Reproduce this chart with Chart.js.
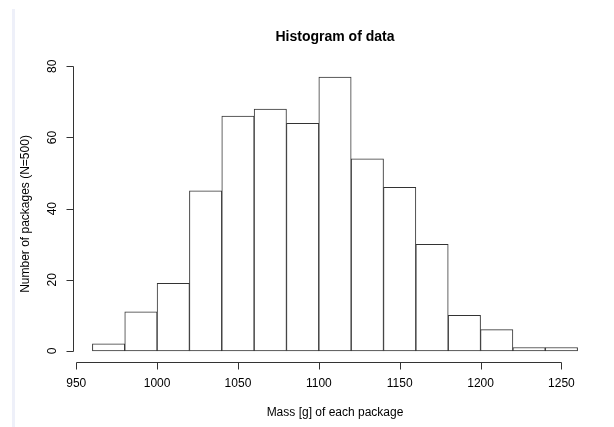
<!DOCTYPE html>
<html>
<head>
<meta charset="utf-8">
<script src="https://cdn.jsdelivr.net/npm/chart.js@4"></script>
<style>
  html, body { margin: 0; padding: 0; background: #fff; }
  #wrap { position: relative; width: 614px; height: 427px; }
  #strip { position: absolute; left: 12px; top: 9px; width: 3px; height: 418px; background: #eef0f9; }
  canvas { position: absolute; left: 0; top: 0; }
</style>
</head>
<body>
<div id="wrap">
  <div id="strip"></div>
  <canvas id="hist" width="614" height="427"></canvas>
</div>
<script>
// Classi di 20 g, da 960 a 1260
const binStart = [960, 980, 1000, 1020, 1040, 1060, 1080, 1100, 1120, 1140, 1160, 1180, 1200, 1220, 1240];
const binWidth = 20;
const counts   = [2, 11, 19, 45, 66, 68, 64, 77, 54, 46, 30, 10, 6, 1, 1];
const xTicks   = [950, 1000, 1050, 1100, 1150, 1200, 1250];
const yTicks   = [0, 20, 40, 60, 80];

const FONT = '"Liberation Sans", Arial, sans-serif';
const INK = '#333';

/* Assi in stile R: linea solo fra primo e ultimo tick, etichette y ruotate. */
const rAxes = {
  id: 'rAxes',
  afterDraw(chart) {
    const ctx = chart.ctx, x = chart.scales.x, y = chart.scales.y, a = chart.chartArea;
    const px = v => Math.round(v) + 0.5;
    ctx.save();
    ctx.strokeStyle = INK;
    ctx.lineWidth = 1;
    ctx.fillStyle = '#000';

    // asse x
    const yb = px(a.bottom);
    ctx.beginPath();
    ctx.moveTo(px(x.getPixelForValue(xTicks[0])), yb);
    ctx.lineTo(px(x.getPixelForValue(xTicks[xTicks.length - 1])), yb);
    xTicks.forEach(t => {
      const p = px(x.getPixelForValue(t));
      ctx.moveTo(p, yb);
      ctx.lineTo(p, yb + 7);
    });
    ctx.stroke();
    ctx.font = '12px ' + FONT;
    ctx.textAlign = 'center';
    ctx.textBaseline = 'middle';
    xTicks.forEach(t => ctx.fillText(String(t), x.getPixelForValue(t), a.bottom + 22));

    // asse y
    const xl = px(a.left);
    ctx.beginPath();
    ctx.moveTo(xl, px(y.getPixelForValue(yTicks[0])));
    ctx.lineTo(xl, px(y.getPixelForValue(yTicks[yTicks.length - 1])));
    yTicks.forEach(t => {
      const p = px(y.getPixelForValue(t));
      ctx.moveTo(xl, p);
      ctx.lineTo(xl - 7, p);
    });
    ctx.stroke();
    yTicks.forEach(t => {
      ctx.save();
      ctx.translate(a.left - 20, y.getPixelForValue(t));
      ctx.rotate(-Math.PI / 2);
      ctx.fillText(String(t), 0, 0);
      ctx.restore();
    });

    // titoli
    const cx = (a.left + a.right) / 2;
    ctx.font = 'bold 14px ' + FONT;
    ctx.fillText('Histogram of data', cx, 37);
    ctx.font = '12px ' + FONT;
    ctx.fillText('Mass [g] of each package', cx, 413);
    ctx.save();
    ctx.translate(26, (a.top + a.bottom) / 2);
    ctx.rotate(-Math.PI / 2);
    ctx.fillText('Number of packages (N=500)', 0, 0);
    ctx.restore();
    ctx.restore();
  }
};

new Chart(document.getElementById('hist'), {
  type: 'bar',
  data: {
    datasets: [{
      data: binStart.map((s, i) => ({ x: s + binWidth / 2, y: counts[i] })),
      backgroundColor: '#fff',
      borderColor: INK,
      borderWidth: 1,
      borderSkipped: false,
      barPercentage: 1,
      categoryPercentage: 1
    }]
  },
  options: {
    responsive: false,
    animation: false,
    layout: { padding: { left: 73, right: 17, top: 66, bottom: 65 } },
    plugins: { legend: { display: false }, tooltip: { enabled: false } },
    scales: {
      x: { type: 'linear', display: false, offset: false, min: 948, max: 1272 },
      y: { type: 'linear', display: false, min: -3.08, max: 80.08 }
    }
  },
  plugins: [rAxes]
});
</script>
</body>
</html>
